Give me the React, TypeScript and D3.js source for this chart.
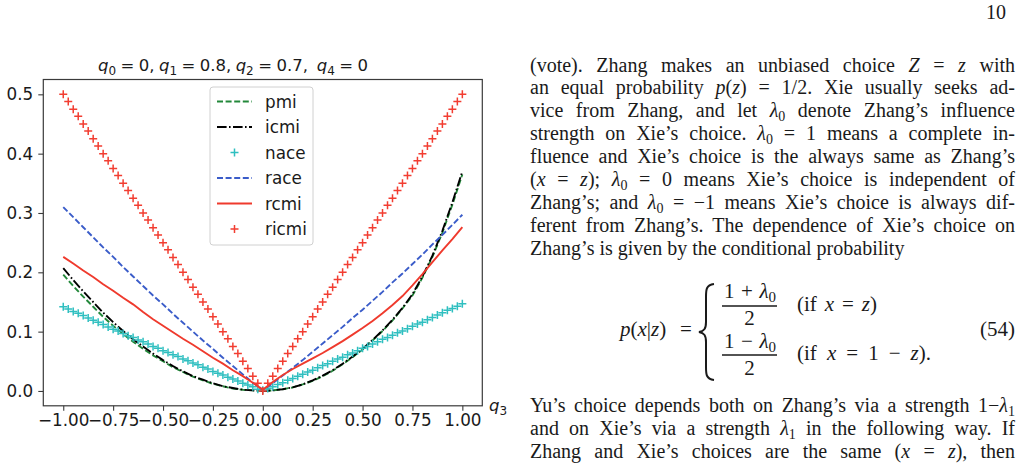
import { useEffect, useRef } from 'react';
import * as d3 from 'd3';

// q3 grids: dense one for marker series, coarser one for line series
const qMarks = [-1, -0.975, -0.95, -0.925, -0.9, -0.875, -0.85, -0.825, -0.8, -0.775, -0.75, -0.725, -0.7, -0.675, -0.65, -0.625, -0.6, -0.575, -0.55, -0.525, -0.5, -0.475, -0.45, -0.425, -0.4, -0.375, -0.35, -0.325, -0.3, -0.275, -0.25, -0.225, -0.2, -0.175, -0.15, -0.125, -0.1, -0.075, -0.05, -0.025, 0, 0.025, 0.05, 0.075, 0.1, 0.125, 0.15, 0.175, 0.2, 0.225, 0.25, 0.275, 0.3, 0.325, 0.35, 0.375, 0.4, 0.425, 0.45, 0.475, 0.5, 0.525, 0.55, 0.575, 0.6, 0.625, 0.65, 0.675, 0.7, 0.725, 0.75, 0.775, 0.8, 0.825, 0.85, 0.875, 0.9, 0.925, 0.95, 0.975, 1];
const qLine = [-1, -0.95, -0.9, -0.85, -0.8, -0.75, -0.7, -0.65, -0.6, -0.55, -0.5, -0.45, -0.4, -0.35, -0.3, -0.25, -0.2, -0.15, -0.1, -0.05, 0, 0.05, 0.1, 0.15, 0.2, 0.25, 0.3, 0.35, 0.4, 0.45, 0.5, 0.55, 0.6, 0.65, 0.7, 0.75, 0.8, 0.85, 0.9, 0.95, 1];

const pmi = [0.196, 0.177, 0.159, 0.142, 0.125, 0.110, 0.096, 0.083, 0.071, 0.060, 0.050, 0.040, 0.032, 0.024, 0.018, 0.012, 0.008, 0.004, 0.002, 0.001, 0, 0.001, 0.003, 0.006, 0.011, 0.017, 0.025, 0.034, 0.045, 0.057, 0.070, 0.085, 0.101, 0.119, 0.139, 0.161, 0.191, 0.226, 0.267, 0.314, 0.365];
const icmi = [0.207, 0.187, 0.168, 0.150, 0.132, 0.116, 0.101, 0.087, 0.075, 0.063, 0.052, 0.042, 0.033, 0.025, 0.019, 0.013, 0.008, 0.005, 0.002, 0.001, 0, 0.001, 0.003, 0.006, 0.011, 0.018, 0.026, 0.035, 0.046, 0.058, 0.071, 0.086, 0.102, 0.120, 0.140, 0.163, 0.193, 0.228, 0.270, 0.318, 0.370];
const race = [0.310, 0.293, 0.276, 0.259, 0.242, 0.226, 0.209, 0.193, 0.177, 0.161, 0.146, 0.130, 0.115, 0.100, 0.085, 0.071, 0.056, 0.042, 0.028, 0.014, 0.002, 0.013, 0.026, 0.039, 0.052, 0.066, 0.080, 0.094, 0.108, 0.123, 0.137, 0.152, 0.167, 0.183, 0.198, 0.214, 0.230, 0.247, 0.263, 0.280, 0.297];
const rcmi = [0.226, 0.215, 0.203, 0.192, 0.180, 0.169, 0.157, 0.146, 0.133, 0.121, 0.110, 0.099, 0.088, 0.078, 0.067, 0.056, 0.046, 0.035, 0.025, 0.014, 0.002, 0.015, 0.027, 0.037, 0.046, 0.055, 0.064, 0.074, 0.084, 0.095, 0.106, 0.118, 0.131, 0.145, 0.160, 0.178, 0.197, 0.217, 0.237, 0.256, 0.276];
const nace = [0.142, 0.138, 0.134, 0.131, 0.127, 0.123, 0.119, 0.116, 0.112, 0.108, 0.104, 0.101, 0.097, 0.093, 0.090, 0.086, 0.083, 0.079, 0.075, 0.072, 0.068, 0.065, 0.061, 0.058, 0.054, 0.051, 0.047, 0.044, 0.040, 0.037, 0.033, 0.030, 0.027, 0.023, 0.020, 0.017, 0.013, 0.010, 0.007, 0.003, 0.001, 0.004, 0.007, 0.011, 0.014, 0.018, 0.021, 0.025, 0.028, 0.032, 0.035, 0.039, 0.043, 0.046, 0.050, 0.054, 0.057, 0.061, 0.064, 0.068, 0.072, 0.075, 0.079, 0.083, 0.087, 0.090, 0.094, 0.098, 0.101, 0.105, 0.109, 0.113, 0.116, 0.120, 0.124, 0.128, 0.132, 0.136, 0.139, 0.143, 0.147];
const ricmi = [0.5, 0.488, 0.475, 0.463, 0.45, 0.438, 0.425, 0.413, 0.4, 0.388, 0.375, 0.363, 0.35, 0.338, 0.325, 0.313, 0.3, 0.288, 0.275, 0.263, 0.25, 0.238, 0.225, 0.213, 0.2, 0.188, 0.175, 0.163, 0.15, 0.138, 0.125, 0.113, 0.1, 0.088, 0.075, 0.063, 0.05, 0.038, 0.025, 0.013, 0, 0.013, 0.025, 0.038, 0.05, 0.063, 0.075, 0.088, 0.1, 0.113, 0.125, 0.138, 0.15, 0.163, 0.175, 0.188, 0.2, 0.213, 0.225, 0.238, 0.25, 0.263, 0.275, 0.288, 0.3, 0.313, 0.325, 0.338, 0.35, 0.363, 0.375, 0.388, 0.4, 0.413, 0.425, 0.438, 0.45, 0.463, 0.475, 0.488, 0.5];

const xTicks = [-1, -0.75, -0.5, -0.25, 0, 0.25, 0.5, 0.75, 1];
const yTicks = [0, 0.1, 0.2, 0.3, 0.4, 0.5];

const title = '*q*_0 = 0, *q*_1 = 0.8, *q*_2 = 0.7,  *q*_4 = 0';

// page text; *..* is math italic, _d a subscript digit
const bodyLines = [
  '(vote). Zhang makes an unbiased choice *Z* = *z* with',
  'an equal probability *p*(*z*) = 1/2. Xie usually seeks ad-',
  'vice from Zhang, and let *λ*_0 denote Zhang’s influence',
  'strength on Xie’s choice. *λ*_0 = 1 means a complete in-',
  'fluence and Xie’s choice is the always same as Zhang’s',
  '(*x* = *z*); *λ*_0 = 0 means Xie’s choice is independent of',
  'Zhang’s; and *λ*_0 = −1 means Xie’s choice is always dif-',
  'ferent from Zhang’s. The dependence of Xie’s choice on',
  'Zhang’s is given by the conditional probability',
];
const tailLines = [
  'Yu’s choice depends both on Zhang’s via a strength 1−*λ*_1',
  'and on Xie’s via a strength *λ*_1 in the following way. If',
  'Zhang and Xie’s choices are the same (*x* = *z*), then',
];

const SANS = 'DejaVu Sans';
const SERIF = 'Liberation Serif';
const INK = '#1a1a1a';

function parse(line) {
  const out = [];
  const re = /\*([^*]+)\*|_(\w)/g;
  let last = 0, m;
  while ((m = re.exec(line))) {
    if (m.index > last) out.push({ t: line.slice(last, m.index), kind: 'r' });
    if (m[1]) out.push({ t: m[1], kind: 'i' });
    else out.push({ t: m[2], kind: 's' });
    last = re.lastIndex;
  }
  if (last < line.length) out.push({ t: line.slice(last), kind: 'r' });
  return out;
}

// writes one line of mixed roman / italic / subscript text
function writeRich(g, str, x, y, font, size, subSize, subDrop) {
  const t = g.append('text')
    .attr('x', x).attr('y', y)
    .attr('xml:space', 'preserve')
    .style('font-family', font)
    .style('font-size', size + 'px')
    .attr('fill', INK);
  let shift = 0;
  parse(str).forEach(s => {
    const sp = t.append('tspan').text(s.t);
    if (s.kind === 'i') sp.attr('font-style', 'italic');
    const want = s.kind === 's' ? subDrop : 0;
    if (want !== shift) { sp.attr('dy', want - shift); shift = want; }
    if (s.kind === 's') sp.style('font-size', subSize + 'px');
  });
  return t;
}

// spread (or tighten) the spaces so a line fills the given width
function justify(t, width) {
  const node = t.node();
  const natural = node.getComputedTextLength();
  const spaces = (node.textContent.match(/ /g) || []).length;
  if (spaces > 0) t.attr('word-spacing', (width - natural) / spaces);
}

function drawChart(svg) {
  const x = d3.scaleLinear().domain([-1.1, 1.1]).range([43.3, 482.3]);
  const y = d3.scaleLinear().domain([-0.025, 0.525]).range([405.8, 79.5]);
  const g = svg.append('g');

  const series = [
    { name: 'pmi', q: qLine, v: pmi, color: '#23883a', dash: '6,2.6', marker: false },
    { name: 'icmi', q: qLine, v: icmi, color: '#000000', dash: '9.6,2.4,1.6,2.4', marker: false },
    { name: 'nace', q: qMarks, v: nace, color: '#2fbfc0', dash: null, marker: true },
    { name: 'race', q: qLine, v: race, color: '#3a5cc9', dash: '6,2.6', marker: false },
    { name: 'rcmi', q: qLine, v: rcmi, color: '#ef3a2d', dash: null, marker: false },
    { name: 'ricmi', q: qMarks, v: ricmi, color: '#f23d31', dash: null, marker: true },
  ];
  const plus = 'M-4,0H4M0,-4V4';
  const line = d3.line().x(d => x(d[0])).y(d => y(d[1]));

  series.forEach(s => {
    const pts = s.q.map((q, i) => [q, s.v[i]]);
    if (s.marker) {
      g.append('g').selectAll('path').data(pts).enter().append('path')
        .attr('d', plus)
        .attr('transform', d => `translate(${x(d[0])},${y(d[1])})`)
        .attr('stroke', s.color).attr('stroke-width', 1.5).attr('fill', 'none');
    } else {
      g.append('path').datum(pts)
        .attr('d', line)
        .attr('fill', 'none')
        .attr('stroke', s.color)
        .attr('stroke-width', 1.9)
        .attr('stroke-dasharray', s.dash);
    }
  });

  // frame
  g.append('rect')
    .attr('x', 43.3).attr('y', 79.5)
    .attr('width', 439).attr('height', 326.3)
    .attr('fill', 'none').attr('stroke', '#3a3a3a').attr('stroke-width', 1.2);

  const xAxis = g.append('g').attr('transform', 'translate(0,405.8)')
    .call(d3.axisBottom(x).tickValues(xTicks).tickFormat(d3.format('.2f')).tickSize(5).tickPadding(3.5));
  const yAxis = g.append('g').attr('transform', 'translate(43.3,0)')
    .call(d3.axisLeft(y).tickValues(yTicks).tickFormat(d3.format('.1f')).tickSize(5).tickPadding(5));
  [xAxis, yAxis].forEach(a => {
    a.select('.domain').remove();
    a.selectAll('line').attr('stroke', '#3a3a3a').attr('stroke-width', 1.1);
    a.selectAll('text').style('font-family', SANS).style('font-size', '16.8px').attr('fill', INK);
  });

  const tt = writeRich(g, title, 98, 71, SANS, 16.5, 12, 3.5);
  justify(tt, 270);
  writeRich(g, '*q*_3', 489, 411, SANS, 16.5, 12, 3.5);

  // legend
  const lg = g.append('g');
  lg.append('rect')
    .attr('x', 210).attr('y', 87).attr('width', 103).attr('height', 158).attr('rx', 3)
    .attr('fill', '#fff').attr('fill-opacity', 0.8)
    .attr('stroke', '#d0d0d0').attr('stroke-width', 1);
  series.forEach((s, i) => {
    const cy = 101.5 + i * 25.5;
    if (s.marker) {
      lg.append('path').attr('d', plus).attr('transform', `translate(234.5,${cy})`)
        .attr('stroke', s.color).attr('stroke-width', 1.5);
    } else {
      lg.append('line').attr('x1', 217).attr('x2', 252).attr('y1', cy).attr('y2', cy)
        .attr('stroke', s.color).attr('stroke-width', 1.9).attr('stroke-dasharray', s.dash);
    }
    lg.append('text').attr('x', 265).attr('y', cy + 6)
      .style('font-family', SANS).style('font-size', '16.8px').attr('fill', INK)
      .text(s.name);
  });
}

function drawPage(svg) {
  const g = svg.append('g');
  const left = 530, right = 1015, lead = 22.95;

  g.append('text').attr('x', 1006).attr('y', 19).attr('text-anchor', 'end')
    .style('font-family', SERIF).style('font-size', '20px').attr('fill', INK).text('10');

  bodyLines.forEach((l, i) => {
    const t = writeRich(g, l, left, 71.5 + i * lead, SERIF, 20, 14, 4);
    if (i < bodyLines.length - 1) justify(t, right - left);
  });
  tailLines.forEach((l, i) => {
    const t = writeRich(g, l, left, 412 + i * lead, SERIF, 20, 14, 4);
    justify(t, right - left);
  });

  // display equation (54)
  writeRich(g, '*p*(*x*|*z*)', 620, 336, SERIF, 21, 15, 4);
  writeRich(g, '=', 680, 336, SERIF, 21, 15, 4);
  g.append('path')
    .attr('d', 'M714,284 C706,285 706,290 706,297 L706,322 C706,329 704,331 699,332 C704,333 706,335 706,342 L706,367 C706,374 706,379 714,380')
    .attr('fill', 'none').attr('stroke', INK).attr('stroke-width', 2);
  const fracs = [
    { num: '1 + *λ*_0', top: 298, bar: 306, den: 325, cond: '(if *x* = *z*)', cy: 311, w: 80 },
    { num: '1 − *λ*_0', top: 348, bar: 355, den: 375, cond: '(if *x* = 1 − *z*).', cy: 360, w: 134 },
  ];
  fracs.forEach(f => {
    const nt = writeRich(g, f.num, 724, f.top, SERIF, 21, 15, 4);
    justify(nt, 52);
    g.append('line').attr('x1', 722).attr('x2', 777).attr('y1', f.bar).attr('y2', f.bar)
      .attr('stroke', INK).attr('stroke-width', 1.3);
    writeRich(g, '2', 749.5, f.den, SERIF, 21, 15, 4).attr('text-anchor', 'middle');
    const ct = writeRich(g, f.cond, 797, f.cy, SERIF, 21, 15, 4);
    justify(ct, f.w);
  });
  g.append('text').attr('x', 1015).attr('y', 336).attr('text-anchor', 'end')
    .style('font-family', SERIF).style('font-size', '21px').attr('fill', INK).text('(54)');
}

export default function App() {
  const ref = useRef(null);
  useEffect(() => {
    const svg = d3.select(ref.current);
    svg.selectAll('*').remove();
    drawChart(svg);
    drawPage(svg);
  }, []);
  return (
    <svg ref={ref} width={1027} height={465}
      style={{ position: 'absolute', left: 0, top: 0, background: '#fff' }} />
  );
}
